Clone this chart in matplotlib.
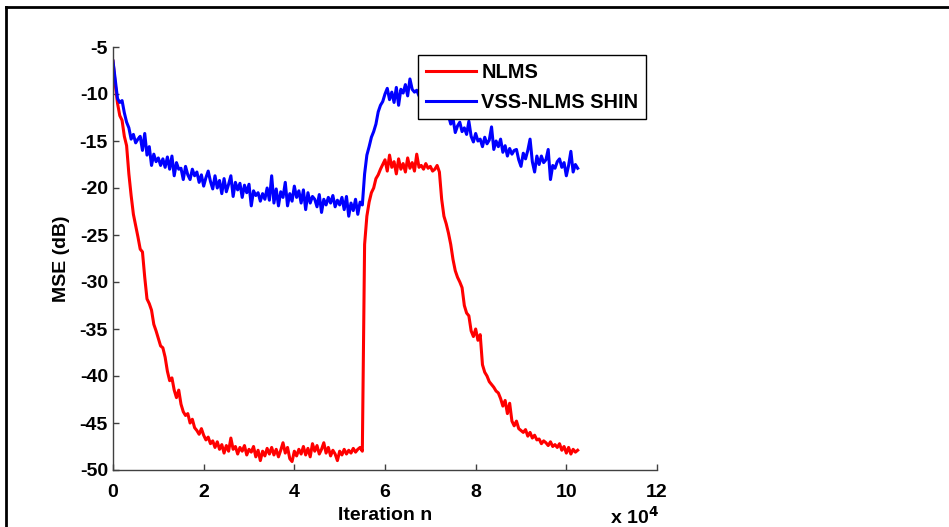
import numpy as np
import matplotlib
matplotlib.use("Agg")
import matplotlib.pyplot as plt
from matplotlib.lines import Line2D

# Iteration index in units of 10^4 (one sample every 500 iterations)
step = 0.05
nlms = [
    -6.5, -9.0, -11.0, -12.3, -12.8, -14.5, -15.5, -18.5, -20.8, -22.8,
    -24.0, -25.2, -26.5, -26.8, -29.5, -31.8, -32.3, -33.0, -34.5, -35.2,
    -36.0, -36.8, -37.0, -38.0, -39.5, -40.5, -40.2, -41.5, -42.3, -41.5,
    -43.0, -43.8, -44.2, -44.0, -45.0, -44.6, -45.5, -45.8, -46.2, -45.6,
    -46.3, -46.8, -46.5, -47.2, -46.9, -47.6, -47.0, -47.8, -47.3, -48.2,
    -47.4, -48.0, -46.6, -47.8, -47.5, -48.3, -47.6, -48.0, -47.4, -48.4,
    -47.8, -48.1, -47.5, -48.6, -47.9, -49.0, -48.0, -48.5, -47.7, -48.3,
    -47.6, -48.4, -47.8, -48.6, -47.9, -47.1, -48.2, -47.6, -48.8, -49.1,
    -48.0, -48.5, -47.8, -48.3, -47.5, -48.4, -47.7, -48.6, -47.2, -48.0,
    -47.4, -48.3, -47.8, -47.1, -48.2, -47.6, -48.5, -47.9, -48.3, -49.0,
    -48.0, -48.4, -47.8, -48.3, -47.9, -48.2, -47.7, -48.1, -47.8, -47.6,
    -48.0, -26.0, -23.0, -21.5, -20.5, -20.0, -19.0, -18.6, -18.0, -17.5,
    -17.0, -18.2, -16.5, -17.8, -17.2, -18.5, -16.9, -18.0, -17.4, -18.3,
    -16.8, -17.9, -17.3, -18.2, -16.4, -17.8, -17.6, -18.0, -17.4, -17.9,
    -17.7, -18.2, -18.0, -17.6, -18.3, -21.2, -23.0, -23.8, -24.8, -26.0,
    -27.6, -28.8, -29.5, -30.0, -30.6, -32.5, -33.3, -33.6, -35.2, -35.8,
    -35.0, -36.2, -35.6, -38.8, -39.6, -40.0, -40.6, -40.9, -41.2, -41.6,
    -41.8, -42.4, -43.2, -42.6, -44.0, -42.9, -44.8, -45.3, -44.8, -45.6,
    -45.8, -46.0, -45.7, -46.4, -46.0, -46.6, -46.3, -46.8, -46.7, -47.2,
    -46.9, -47.1, -47.4, -47.0, -47.5, -47.3, -47.6, -47.2, -47.9, -47.5,
    -48.2, -47.6, -48.3, -47.8, -48.1, -47.9,
]
vss_shin = [
    -6.5, -8.5, -10.5, -10.9, -10.7, -12.0, -13.0, -13.6, -14.8, -14.3,
    -15.2, -14.8, -14.5, -16.0, -14.2, -16.5, -15.6, -17.6, -16.4, -17.2,
    -16.8, -17.6, -16.9, -17.8, -16.7, -18.0, -16.6, -18.7, -17.3, -18.0,
    -17.9, -19.1, -17.7, -18.6, -19.1, -18.0, -18.7, -18.3, -19.4, -18.6,
    -19.8, -18.9, -18.2, -19.3, -20.1, -18.7, -20.0, -19.2, -20.6, -19.0,
    -20.4, -19.6, -18.7, -20.9, -19.4, -20.2, -19.5, -21.0, -19.7, -20.5,
    -19.6, -21.9, -20.3, -20.8, -20.5, -21.4, -20.6, -21.2, -20.0, -21.3,
    -18.7, -21.6, -20.1, -21.9, -20.4, -21.0, -19.4, -21.9, -20.6, -21.4,
    -19.8, -21.0, -20.3, -21.6, -20.2, -22.3, -20.5, -21.6, -20.9, -21.2,
    -22.0, -20.7, -22.6, -21.2, -21.8, -21.0, -21.6, -20.8, -22.0, -21.3,
    -21.8, -21.0, -22.3, -20.9, -23.0, -21.6, -22.4, -21.2, -22.8, -21.5,
    -21.8, -18.5, -16.5, -15.6, -14.6, -14.0, -13.2, -11.9, -11.2, -10.8,
    -10.0, -9.4, -10.6, -9.8, -10.9, -9.3, -11.2, -9.5, -9.9, -9.0,
    -10.2, -8.4, -9.5, -9.8, -9.6, -10.2, -9.4, -10.5, -10.0, -10.8,
    -10.3, -11.0, -10.6, -11.5, -11.0, -12.0, -11.4, -12.6, -12.3, -13.2,
    -12.6, -14.1, -13.4, -13.0, -14.0, -13.6, -14.3, -12.9, -14.5, -15.1,
    -14.2, -15.0, -14.8, -15.6, -14.6, -15.3, -14.9, -13.5, -15.9, -15.0,
    -15.6, -14.8, -16.2, -15.5, -16.6, -15.8, -16.4, -16.0, -15.9, -17.0,
    -17.7, -16.3, -16.9, -16.0, -14.8, -17.2, -18.3, -16.6, -17.5, -16.6,
    -17.3, -17.0, -15.9, -19.1, -17.6, -17.9, -17.2, -16.9, -17.8, -17.3,
    -18.7, -17.6, -16.1, -18.3, -17.5, -17.9,
]
labels = ["NLMS", "VSS-NLMS SHIN"]
colors = ["#ff0000", "#0000ff"]
xticks = [0, 2, 4, 6, 8, 10, 12]
yticks = [-50, -45, -40, -35, -30, -25, -20, -15, -10, -5]

x = np.arange(len(nlms)) * step

plt.rcParams["font.family"] = ["Liberation Sans", "DejaVu Sans"]
plt.rcParams["font.weight"] = "bold"
FS = 14
LFS = 14.4

W, H = 949, 527
fig = plt.figure(figsize=(W / 100, H / 100), dpi=100)
ax = fig.add_axes([113 / W, 1 - 470 / H, (657 - 113) / W, (470 - 47) / H])

ax.plot(x, nlms, color=colors[0], lw=2.2, label=labels[0])
ax.plot(x, vss_shin, color=colors[1], lw=2.2, label=labels[1])

ax.set_xlim(0, 12)
ax.set_ylim(-50, -5)
ax.set_xticks(xticks)
ax.set_yticks(yticks)
ax.set_xticklabels([str(v) for v in xticks], fontsize=FS, fontweight="bold")
ax.set_yticklabels([str(v) for v in yticks], fontsize=FS, fontweight="bold")
for s in ["top", "right"]:
    ax.spines[s].set_visible(False)
for s in ["left", "bottom"]:
    ax.spines[s].set_color("#404040")
    ax.spines[s].set_linewidth(1.0)
ax.tick_params(direction="in", length=4, width=1, color="#404040")
ax.tick_params(axis="x", pad=10)
ax.tick_params(axis="y", pad=3.6)
ax.set_xlabel("Iteration n", fontsize=FS, fontweight="bold", labelpad=4.5)
ax.set_ylabel("MSE (dB)", fontsize=FS, fontweight="bold", labelpad=7)

fig.text(610 / W, 1 - 524 / H, r"x 10$^{\mathbf{4}}$", fontsize=FS,
         fontweight="bold", ha="left", va="baseline")

leg = ax.legend(loc="upper left", bbox_to_anchor=(418 / W, 1 - 55 / H),
                bbox_transform=fig.transFigure, borderaxespad=0,
                prop={"size": LFS, "weight": "bold"}, frameon=True,
                fancybox=False, handlelength=2.5, handletextpad=0.28,
                labelspacing=0.55, borderpad=0.38)
leg.get_frame().set_edgecolor("black")
leg.get_frame().set_linewidth(1.0)
leg.get_frame().set_alpha(1)

# figure border (cropped frame)
fig.add_artist(Line2D([6 / W, 1], [1 - 7 / H, 1 - 7 / H], transform=fig.transFigure,
                      color="black", lw=2))
fig.add_artist(Line2D([6 / W, 6 / W], [0, 1 - 7 / H], transform=fig.transFigure,
                      color="black", lw=2))

fig.savefig("out.png", dpi=100)
